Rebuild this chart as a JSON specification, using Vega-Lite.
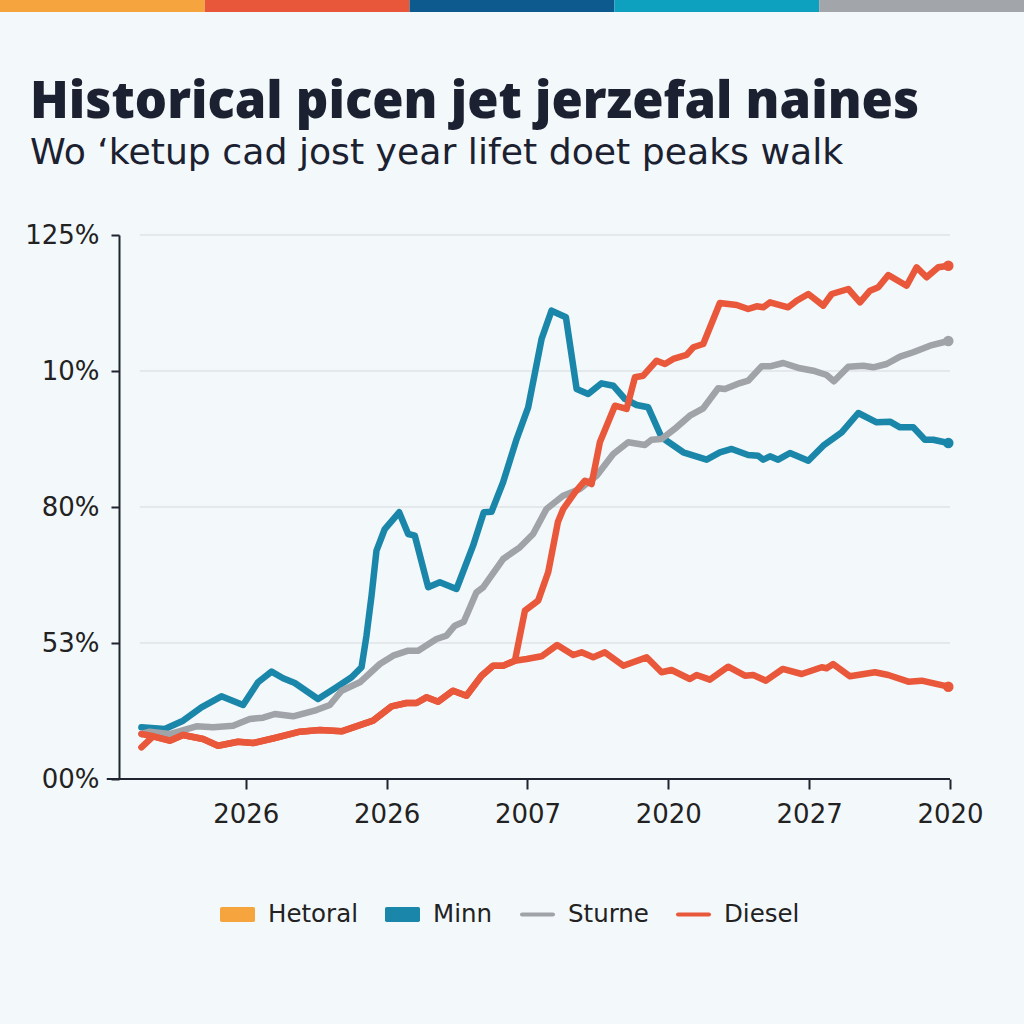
{
  "$schema": "https://vega.github.io/schema/vega-lite/v6.json",
  "background": "#F3F8FB",
  "padding": {"left": 0, "top": 0, "right": 0, "bottom": 99},
  "spacing": 65,
  "config": {"view": {"stroke": null}},
  "resolve": {"scale": {"color": "shared", "fill": "shared"}},
  "datasets": {
    "series": [
      {"s":"Minn","b":1,"t":0.259,"v":11.88},{"s":"Minn","b":1,"t":0.425,"v":11.49},{"s":"Minn","b":1,"t":0.555,"v":13.40},{"s":"Minn","b":1,"t":0.685,"v":16.48},{"s":"Minn","b":1,"t":0.827,"v":19.00},{"s":"Minn","b":1,"t":0.981,"v":17.00},{"s":"Minn","b":1,"t":1.087,"v":22.22},{"s":"Minn","b":1,"t":1.183,"v":24.66},{"s":"Minn","b":1,"t":1.265,"v":23.14},{"s":"Minn","b":1,"t":1.348,"v":22.06},{"s":"Minn","b":1,"t":1.513,"v":18.38},{"s":"Minn","b":1,"t":1.644,"v":21.07},{"s":"Minn","b":1,"t":1.751,"v":23.37},{"s":"Minn","b":1,"t":1.822,"v":25.67},{"s":"Minn","b":1,"t":1.857,"v":32.93},{"s":"Minn","b":1,"t":1.893,"v":42.12},{"s":"Minn","b":1,"t":1.928,"v":52.46},{"s":"Minn","b":1,"t":1.987,"v":57.44},{"s":"Minn","b":1,"t":2.089,"v":61.28},{"s":"Minn","b":1,"t":2.153,"v":56.30},{"s":"Minn","b":1,"t":2.200,"v":55.91},{"s":"Minn","b":1,"t":2.295,"v":44.05},{"s":"Minn","b":1,"t":2.378,"v":45.20},{"s":"Minn","b":1,"t":2.496,"v":43.66},{"s":"Minn","b":1,"t":2.614,"v":53.61},{"s":"Minn","b":1,"t":2.690,"v":61.28},{"s":"Minn","b":1,"t":2.745,"v":61.42},{"s":"Minn","b":1,"t":2.827,"v":68.18},{"s":"Minn","b":1,"t":2.923,"v":78.12},{"s":"Minn","b":1,"t":3.005,"v":85.41},{"s":"Minn","b":1,"t":3.100,"v":101.10},{"s":"Minn","b":1,"t":3.171,"v":107.61},{"s":"Minn","b":1,"t":3.273,"v":106.09},{"s":"Minn","b":1,"t":3.349,"v":89.61},{"s":"Minn","b":1,"t":3.431,"v":88.46},{"s":"Minn","b":1,"t":3.526,"v":90.92},{"s":"Minn","b":1,"t":3.609,"v":90.37},{"s":"Minn","b":1,"t":3.692,"v":87.32},{"s":"Minn","b":1,"t":3.775,"v":85.94},{"s":"Minn","b":1,"t":3.857,"v":85.41},{"s":"Minn","b":1,"t":3.952,"v":78.52},{"s":"Minn","b":1,"t":4.106,"v":75.07},{"s":"Minn","b":1,"t":4.272,"v":73.37},{"s":"Minn","b":1,"t":4.366,"v":75.07},{"s":"Minn","b":1,"t":4.450,"v":75.83},{"s":"Minn","b":1,"t":4.567,"v":74.45},{"s":"Minn","b":1,"t":4.638,"v":74.29},{"s":"Minn","b":1,"t":4.674,"v":73.37},{"s":"Minn","b":1,"t":4.722,"v":74.15},{"s":"Minn","b":1,"t":4.780,"v":73.37},{"s":"Minn","b":1,"t":4.864,"v":74.91},{"s":"Minn","b":1,"t":4.994,"v":73.14},{"s":"Minn","b":1,"t":5.100,"v":76.59},{"s":"Minn","b":1,"t":5.231,"v":79.66},{"s":"Minn","b":1,"t":5.349,"v":84.10},{"s":"Minn","b":1,"t":5.479,"v":81.96},{"s":"Minn","b":1,"t":5.574,"v":82.10},{"s":"Minn","b":1,"t":5.645,"v":80.81},{"s":"Minn","b":1,"t":5.739,"v":80.81},{"s":"Minn","b":1,"t":5.822,"v":77.96},{"s":"Minn","b":1,"t":5.881,"v":77.96},{"s":"Minn","b":1,"t":5.988,"v":77.21},
      {"s":"Sturne","b":1,"t":0.259,"v":10.34},{"s":"Sturne","b":1,"t":0.318,"v":10.87},{"s":"Sturne","b":1,"t":0.460,"v":10.34},{"s":"Sturne","b":1,"t":0.650,"v":12.11},{"s":"Sturne","b":1,"t":0.768,"v":11.88},{"s":"Sturne","b":1,"t":0.910,"v":12.25},{"s":"Sturne","b":1,"t":1.028,"v":13.79},{"s":"Sturne","b":1,"t":1.123,"v":14.09},{"s":"Sturne","b":1,"t":1.206,"v":14.94},{"s":"Sturne","b":1,"t":1.336,"v":14.41},{"s":"Sturne","b":1,"t":1.502,"v":15.85},{"s":"Sturne","b":1,"t":1.597,"v":17.00},{"s":"Sturne","b":1,"t":1.680,"v":20.29},{"s":"Sturne","b":1,"t":1.810,"v":22.22},{"s":"Sturne","b":1,"t":1.952,"v":26.42},{"s":"Sturne","b":1,"t":2.046,"v":28.33},{"s":"Sturne","b":1,"t":2.153,"v":29.48},{"s":"Sturne","b":1,"t":2.224,"v":29.48},{"s":"Sturne","b":1,"t":2.354,"v":32.17},{"s":"Sturne","b":1,"t":2.425,"v":32.93},{"s":"Sturne","b":1,"t":2.484,"v":35.23},{"s":"Sturne","b":1,"t":2.548,"v":36.14},{"s":"Sturne","b":1,"t":2.638,"v":42.90},{"s":"Sturne","b":1,"t":2.685,"v":44.05},{"s":"Sturne","b":1,"t":2.827,"v":50.55},{"s":"Sturne","b":1,"t":2.946,"v":53.24},{"s":"Sturne","b":1,"t":3.040,"v":56.29},{"s":"Sturne","b":1,"t":3.135,"v":62.04},{"s":"Sturne","b":1,"t":3.253,"v":65.10},{"s":"Sturne","b":1,"t":3.372,"v":66.64},{"s":"Sturne","b":1,"t":3.491,"v":69.69},{"s":"Sturne","b":1,"t":3.609,"v":74.68},{"s":"Sturne","b":1,"t":3.715,"v":77.37},{"s":"Sturne","b":1,"t":3.834,"v":76.75},{"s":"Sturne","b":1,"t":3.881,"v":77.96},{"s":"Sturne","b":1,"t":3.952,"v":78.12},{"s":"Sturne","b":1,"t":4.059,"v":80.81},{"s":"Sturne","b":1,"t":4.153,"v":83.48},{"s":"Sturne","b":1,"t":4.248,"v":85.18},{"s":"Sturne","b":1,"t":4.354,"v":89.78},{"s":"Sturne","b":1,"t":4.402,"v":89.61},{"s":"Sturne","b":1,"t":4.509,"v":90.99},{"s":"Sturne","b":1,"t":4.567,"v":91.52},{"s":"Sturne","b":1,"t":4.663,"v":94.83},{"s":"Sturne","b":1,"t":4.722,"v":94.83},{"s":"Sturne","b":1,"t":4.816,"v":95.59},{"s":"Sturne","b":1,"t":4.935,"v":94.37},{"s":"Sturne","b":1,"t":5.029,"v":93.82},{"s":"Sturne","b":1,"t":5.124,"v":92.83},{"s":"Sturne","b":1,"t":5.176,"v":91.38},{"s":"Sturne","b":1,"t":5.278,"v":94.74},{"s":"Sturne","b":1,"t":5.384,"v":94.97},{"s":"Sturne","b":1,"t":5.455,"v":94.60},{"s":"Sturne","b":1,"t":5.550,"v":95.36},{"s":"Sturne","b":1,"t":5.645,"v":97.04},{"s":"Sturne","b":1,"t":5.739,"v":98.05},{"s":"Sturne","b":1,"t":5.858,"v":99.56},{"s":"Sturne","b":1,"t":5.988,"v":100.64},
      {"s":"Diesel","b":1,"t":0.259,"v":10.34},{"s":"Diesel","b":1,"t":0.342,"v":9.81},{"s":"Diesel","b":1,"t":0.460,"v":8.80},{"s":"Diesel","b":1,"t":0.555,"v":10.11},{"s":"Diesel","b":1,"t":0.697,"v":9.19},{"s":"Diesel","b":1,"t":0.803,"v":7.65},{"s":"Diesel","b":1,"t":0.945,"v":8.57},{"s":"Diesel","b":1,"t":1.052,"v":8.27},{"s":"Diesel","b":1,"t":1.206,"v":9.42},{"s":"Diesel","b":1,"t":1.384,"v":10.87},{"s":"Diesel","b":1,"t":1.526,"v":11.26},{"s":"Diesel","b":1,"t":1.680,"v":10.96},{"s":"Diesel","b":1,"t":1.904,"v":13.40},{"s":"Diesel","b":1,"t":2.035,"v":16.70},{"s":"Diesel","b":1,"t":2.141,"v":17.46},{"s":"Diesel","b":1,"t":2.212,"v":17.46},{"s":"Diesel","b":1,"t":2.283,"v":18.77},{"s":"Diesel","b":1,"t":2.366,"v":17.76},{"s":"Diesel","b":1,"t":2.472,"v":20.29},{"s":"Diesel","b":1,"t":2.567,"v":19.14},{"s":"Diesel","b":1,"t":2.674,"v":23.74},{"s":"Diesel","b":1,"t":2.756,"v":26.03},{"s":"Diesel","b":1,"t":2.827,"v":26.03},{"s":"Diesel","b":1,"t":2.911,"v":27.18},{"s":"Diesel","b":1,"t":2.982,"v":38.67},{"s":"Diesel","b":1,"t":3.076,"v":40.97},{"s":"Diesel","b":1,"t":3.147,"v":47.50},{"s":"Diesel","b":1,"t":3.216,"v":59.05},{"s":"Diesel","b":1,"t":3.254,"v":62.04},{"s":"Diesel","b":1,"t":3.337,"v":65.88},{"s":"Diesel","b":1,"t":3.408,"v":68.54},{"s":"Diesel","b":1,"t":3.455,"v":67.78},{"s":"Diesel","b":1,"t":3.514,"v":77.37},{"s":"Diesel","b":1,"t":3.621,"v":85.78},{"s":"Diesel","b":1,"t":3.704,"v":85.02},{"s":"Diesel","b":1,"t":3.763,"v":92.30},{"s":"Diesel","b":1,"t":3.822,"v":92.67},{"s":"Diesel","b":1,"t":3.917,"v":96.12},{"s":"Diesel","b":1,"t":3.976,"v":95.36},{"s":"Diesel","b":1,"t":4.035,"v":96.51},{"s":"Diesel","b":1,"t":4.130,"v":97.43},{"s":"Diesel","b":1,"t":4.177,"v":99.20},{"s":"Diesel","b":1,"t":4.248,"v":99.95},{"s":"Diesel","b":1,"t":4.366,"v":109.37},{"s":"Diesel","b":1,"t":4.485,"v":108.92},{"s":"Diesel","b":1,"t":4.567,"v":107.99},{"s":"Diesel","b":1,"t":4.627,"v":108.62},{"s":"Diesel","b":1,"t":4.674,"v":108.39},{"s":"Diesel","b":1,"t":4.722,"v":109.54},{"s":"Diesel","b":1,"t":4.851,"v":108.39},{"s":"Diesel","b":1,"t":4.911,"v":109.90},{"s":"Diesel","b":1,"t":4.994,"v":111.44},{"s":"Diesel","b":1,"t":5.100,"v":108.76},{"s":"Diesel","b":1,"t":5.160,"v":111.44},{"s":"Diesel","b":1,"t":5.278,"v":112.59},{"s":"Diesel","b":1,"t":5.361,"v":109.54},{"s":"Diesel","b":1,"t":5.432,"v":112.20},{"s":"Diesel","b":1,"t":5.491,"v":112.98},{"s":"Diesel","b":1,"t":5.562,"v":115.81},{"s":"Diesel","b":1,"t":5.692,"v":113.35},{"s":"Diesel","b":1,"t":5.763,"v":117.58},{"s":"Diesel","b":1,"t":5.834,"v":115.28},{"s":"Diesel","b":1,"t":5.917,"v":117.58},{"s":"Diesel","b":1,"t":5.988,"v":117.95},
      {"s":"Diesel","b":2,"t":0.259,"v":7.28},{"s":"Diesel","b":2,"t":0.342,"v":9.81},{"s":"Diesel","b":2,"t":0.460,"v":8.80},{"s":"Diesel","b":2,"t":0.555,"v":10.11},{"s":"Diesel","b":2,"t":0.697,"v":9.19},{"s":"Diesel","b":2,"t":0.803,"v":7.65},{"s":"Diesel","b":2,"t":0.945,"v":8.57},{"s":"Diesel","b":2,"t":1.052,"v":8.27},{"s":"Diesel","b":2,"t":1.206,"v":9.42},{"s":"Diesel","b":2,"t":1.384,"v":10.87},{"s":"Diesel","b":2,"t":1.526,"v":11.26},{"s":"Diesel","b":2,"t":1.680,"v":10.96},{"s":"Diesel","b":2,"t":1.904,"v":13.40},{"s":"Diesel","b":2,"t":2.035,"v":16.70},{"s":"Diesel","b":2,"t":2.141,"v":17.46},{"s":"Diesel","b":2,"t":2.212,"v":17.46},{"s":"Diesel","b":2,"t":2.283,"v":18.77},{"s":"Diesel","b":2,"t":2.366,"v":17.76},{"s":"Diesel","b":2,"t":2.472,"v":20.29},{"s":"Diesel","b":2,"t":2.567,"v":19.14},{"s":"Diesel","b":2,"t":2.674,"v":23.74},{"s":"Diesel","b":2,"t":2.756,"v":26.03},{"s":"Diesel","b":2,"t":2.827,"v":26.03},{"s":"Diesel","b":2,"t":2.911,"v":27.18},{"s":"Diesel","b":2,"t":2.994,"v":27.57},{"s":"Diesel","b":2,"t":3.100,"v":28.19},{"s":"Diesel","b":2,"t":3.211,"v":30.79},{"s":"Diesel","b":2,"t":3.325,"v":28.49},{"s":"Diesel","b":2,"t":3.384,"v":29.11},{"s":"Diesel","b":2,"t":3.467,"v":27.96},{"s":"Diesel","b":2,"t":3.550,"v":29.11},{"s":"Diesel","b":2,"t":3.680,"v":26.03},{"s":"Diesel","b":2,"t":3.846,"v":27.96},{"s":"Diesel","b":2,"t":3.952,"v":24.52},{"s":"Diesel","b":2,"t":4.023,"v":25.05},{"s":"Diesel","b":2,"t":4.153,"v":22.98},{"s":"Diesel","b":2,"t":4.201,"v":23.90},{"s":"Diesel","b":2,"t":4.295,"v":22.82},{"s":"Diesel","b":2,"t":4.425,"v":25.80},{"s":"Diesel","b":2,"t":4.544,"v":23.74},{"s":"Diesel","b":2,"t":4.603,"v":23.90},{"s":"Diesel","b":2,"t":4.693,"v":22.59},{"s":"Diesel","b":2,"t":4.812,"v":25.28},{"s":"Diesel","b":2,"t":4.947,"v":24.13},{"s":"Diesel","b":2,"t":5.089,"v":25.67},{"s":"Diesel","b":2,"t":5.124,"v":25.44},{"s":"Diesel","b":2,"t":5.171,"v":26.42},{"s":"Diesel","b":2,"t":5.290,"v":23.60},{"s":"Diesel","b":2,"t":5.467,"v":24.52},{"s":"Diesel","b":2,"t":5.562,"v":23.90},{"s":"Diesel","b":2,"t":5.704,"v":22.36},{"s":"Diesel","b":2,"t":5.799,"v":22.59},{"s":"Diesel","b":2,"t":5.988,"v":21.21}
    ],
    "grid": [{"g": 31.25}, {"g": 62.5}, {"g": 93.75}, {"g": 125}],
    "base": [{"g": 0}]
  },
  "vconcat": [
    {
      "width": 1024,
      "height": 12,
      "data": {"values": [{"seg": "A"}, {"seg": "B"}, {"seg": "C"}, {"seg": "D"}, {"seg": "E"}]},
      "mark": {"type": "bar"},
      "encoding": {
        "x": {"field": "seg", "type": "nominal", "axis": null, "scale": {"paddingInner": 0, "paddingOuter": 0}},
        "fill": {"field": "seg", "type": "nominal", "legend": null, "scale": {"range": ["#F5A43E", "#E8573A", "#0D5A8E", "#0EA1BF", "#A2A5A9"]}}
      }
    },
    {
      "width": 950,
      "height": 544,
      "title": {
        "text": "Historical picen jet jerzefal naines",
        "subtitle": "Wo ‘ketup cad jost year lifet doet peaks walk",
        "anchor": "start",
        "frame": "bounds",
        "dx": 30,
        "font": "Open Sans",
        "fontWeight": 800,
        "fontSize": 50.7,
        "color": "#1B2130",
        "subtitleFont": "DejaVu Sans",
        "subtitleFontSize": 36.2,
        "subtitleColor": "#1B2130",
        "subtitlePadding": 6,
        "offset": 50
      },
      "layer": [
        {
          "data": {"name": "grid"},
          "mark": {"type": "rule", "color": "#D5D9DD", "strokeWidth": 1},
          "encoding": {
            "y": {"field": "g", "type": "quantitative"},
            "x": {"datum": 0.247},
            "x2": {"datum": 6}
          }
        },
        {
          "data": {"name": "series"},
          "mark": {"type": "line", "strokeWidth": 6.5, "strokeCap": "round", "strokeJoin": "round"},
          "encoding": {
            "x": {"field": "t", "type": "quantitative", "title": null,
              "scale": {"domain": [-0.745, 6], "nice": false, "zero": false},
              "axis": {"values": [1, 2, 3, 4, 5, 6], "labelExpr": "datum.value==1?'2026':datum.value==2?'2026':datum.value==3?'2007':datum.value==4?'2020':datum.value==5?'2027':'2020'",
                "grid": false, "domain": false, "tickColor": "#1E2430", "tickWidth": 2, "tickSize": 10, "labelFlush": false,
                "labelFont": "DejaVu Sans", "labelFontSize": 26, "labelColor": "#222222", "labelPadding": 12}},
            "y": {"field": "v", "type": "quantitative", "title": null,
              "scale": {"domain": [0, 125], "nice": false},
              "axis": {"values": [0, 31.25, 62.5, 93.75, 125], "labelExpr": "datum.value==125?'125%':datum.value==93.75?'10%':datum.value==62.5?'80%':datum.value==31.25?'53%':'00%'",
                "offset": -119, "grid": false, "domainColor": "#1E2430", "domainWidth": 2, "tickColor": "#1E2430", "tickWidth": 2, "tickSize": 8, "labelFlush": false,
                "labelFont": "DejaVu Sans", "labelFontSize": 26, "labelColor": "#222222", "labelPadding": 12}},
            "color": {"field": "s", "type": "nominal",
              "scale": {"domain": ["Hetoral", "Minn", "Sturne", "Diesel"], "range": ["#F5A43E", "#1A86A9", "#A0A3A7", "#E9583A"]},
              "legend": {"orient": "none", "legendX": 220, "legendY": 897, "direction": "horizontal", "title": null,
                "labelFont": "DejaVu Sans", "labelFontSize": 24.5, "labelColor": "#222222", "symbolSize": 1225, "labelOffset": 13, "columnPadding": 27,
                "encode": {"symbols": {"update": {
                  "fill": {"scale": "color", "field": "value"},
                  "fillOpacity": {"value": 1},
                  "strokeWidth": {"value": 0},
                  "shape": {"signal": "datum.value=='Hetoral'||datum.value=='Minn'?'M-0.9,-0.43H0.9Q1,-0.43 1,-0.33V0.33Q1,0.43 0.9,0.43H-0.9Q-1,0.43 -1,0.33V-0.33Q-1,-0.43 -0.9,-0.43Z':'M-0.88,-0.12H0.88Q1,-0.12 1,0Q1,0.12 0.88,0.12H-0.88Q-1,0.12 -1,0Q-1,-0.12 -0.88,-0.12Z'"}
                }}}}},
            "detail": {"field": "b", "type": "nominal"},
            "order": {"field": "t", "type": "quantitative"}
          }
        },
        {
          "data": {"name": "base"},
          "mark": {"type": "rule", "color": "#1E2430", "strokeWidth": 2},
          "encoding": {
            "y": {"field": "g", "type": "quantitative"},
            "x": {"datum": 0.013},
            "x2": {"datum": 6}
          }
        },
        {
          "data": {"name": "series"},
          "transform": [
            {"joinaggregate": [{"op": "max", "field": "t", "as": "tmax"}], "groupby": ["s", "b"]},
            {"filter": "datum.t == datum.tmax"}],
          "mark": {"type": "point", "filled": true, "size": 110, "opacity": 1},
          "encoding": {
            "x": {"field": "t", "type": "quantitative"},
            "y": {"field": "v", "type": "quantitative"},
            "color": {"field": "s", "type": "nominal"}
          }
        }
      ]
    }
  ]
}
